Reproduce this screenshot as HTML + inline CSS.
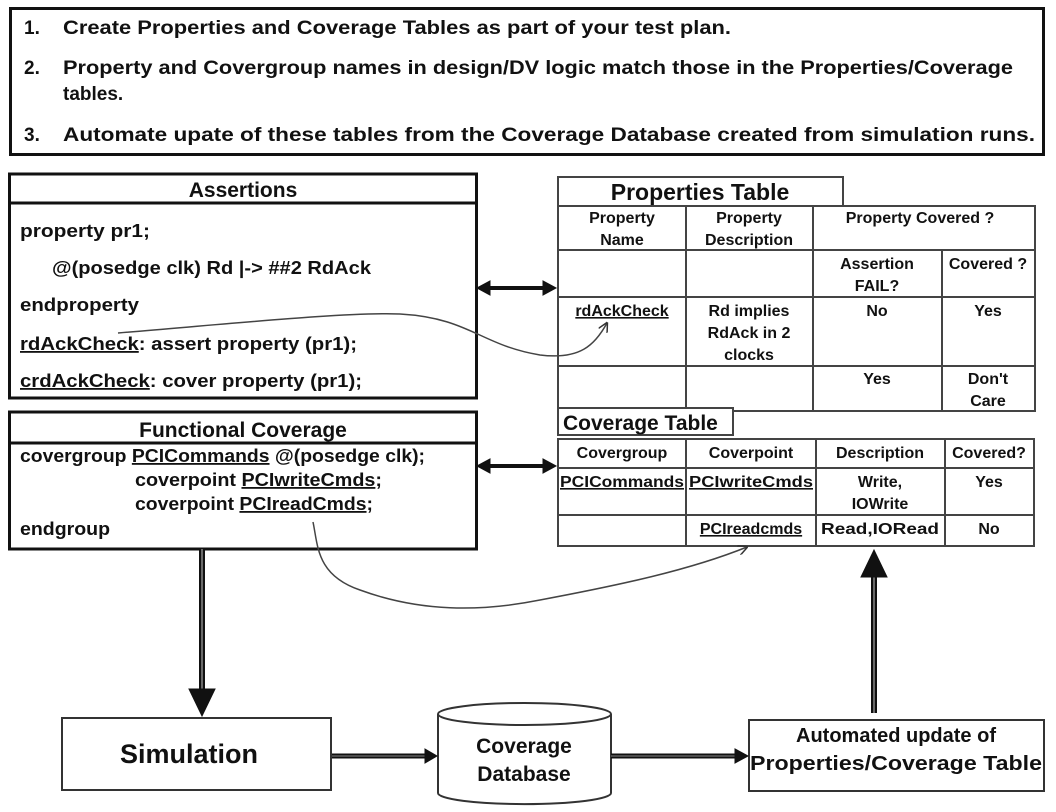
<!DOCTYPE html>
<html><head><meta charset="utf-8"><style>
html,body{margin:0;padding:0;background:#fff;}
svg{display:block;}
text{font-family:"Liberation Sans",sans-serif;font-weight:bold;fill:#111;}
</style></head><body>
<svg width="1056" height="812" viewBox="0 0 1056 812" xmlns="http://www.w3.org/2000/svg">
<defs>
<marker id="ah" markerWidth="10" markerHeight="10" refX="9" refY="5" orient="auto" markerUnits="userSpaceOnUse"><path d="M0,0 L10,5 L0,10" fill="none" stroke="#333" stroke-width="1.5"/></marker>
</defs>
<rect x="0" y="0" width="1056" height="812" fill="#fff"/>
<!-- top box -->
<rect x="10.5" y="8.5" width="1033" height="146" fill="#fff" stroke="#111" stroke-width="3"/>
<g font-size="19">
<text x="24" y="34">1.</text><text x="63" y="34" textLength="668" lengthAdjust="spacingAndGlyphs">Create Properties and Coverage Tables as part of your test plan.</text>
<text x="24" y="74">2.</text><text x="63" y="74" textLength="950" lengthAdjust="spacingAndGlyphs">Property and Covergroup names in design/DV logic match those in the Properties/Coverage</text>
<text x="63" y="100">tables.</text>
<text x="24" y="141">3.</text><text x="63" y="141" textLength="972" lengthAdjust="spacingAndGlyphs">Automate upate of these tables from the Coverage Database created from simulation runs.</text>
</g>
<!-- Assertions -->
<rect x="9.5" y="174" width="467" height="224" fill="#fff" stroke="#111" stroke-width="3"/>
<line x1="9" y1="203" x2="477" y2="203" stroke="#111" stroke-width="3"/>
<text x="243" y="197" font-size="21" text-anchor="middle">Assertions</text>
<g font-size="18">
<text x="20" y="237" textLength="130" lengthAdjust="spacingAndGlyphs">property pr1;</text>
<text x="52" y="274" textLength="319" lengthAdjust="spacingAndGlyphs">@(posedge clk) Rd |-&gt; ##2 RdAck</text>
<text x="20" y="311" textLength="119" lengthAdjust="spacingAndGlyphs">endproperty</text>
<text x="20" y="350" textLength="337" lengthAdjust="spacingAndGlyphs"><tspan text-decoration="underline">rdAckCheck</tspan>: assert property (pr1);</text>
<text x="20" y="387" textLength="342" lengthAdjust="spacingAndGlyphs"><tspan text-decoration="underline">crdAckCheck</tspan>: cover property (pr1);</text>
<text x="20" y="462" textLength="405" lengthAdjust="spacingAndGlyphs">covergroup <tspan text-decoration="underline">PCICommands</tspan> @(posedge clk);</text>
<text x="135" y="486" textLength="247" lengthAdjust="spacingAndGlyphs">coverpoint <tspan text-decoration="underline">PCIwriteCmds</tspan>;</text>
<text x="135" y="510" textLength="238" lengthAdjust="spacingAndGlyphs">coverpoint <tspan text-decoration="underline">PCIreadCmds</tspan>;</text>
<text x="20" y="535" textLength="90" lengthAdjust="spacingAndGlyphs">endgroup</text>
</g>
<!-- Functional coverage -->
<rect x="9.5" y="412" width="467" height="137" fill="none" stroke="#111" stroke-width="3"/>
<line x1="9" y1="443" x2="477" y2="443" stroke="#111" stroke-width="3"/>
<text x="243" y="437" font-size="21" text-anchor="middle">Functional  Coverage</text>
<!-- double arrows -->
<g fill="#111" stroke="#111">
<line x1="484" y1="288" x2="548" y2="288" stroke-width="4"/>
<path d="M477,288 L490,281 L490,295Z"/><path d="M556,288 L543,281 L543,295Z"/>
<line x1="484" y1="466" x2="548" y2="466" stroke-width="4"/>
<path d="M477,466 L490,459 L490,473Z"/><path d="M556,466 L543,459 L543,473Z"/>
</g>
<!-- Properties Table -->
<g stroke="#444" stroke-width="2" fill="none">
<rect x="558" y="177" width="285" height="29" fill="#fff"/>
<rect x="558" y="206" width="477" height="205"/>
<line x1="686" y1="206" x2="686" y2="411"/><line x1="813" y1="206" x2="813" y2="411"/>
<line x1="942" y1="250" x2="942" y2="411"/>
<line x1="558" y1="250" x2="1035" y2="250"/><line x1="558" y1="297" x2="1035" y2="297"/><line x1="558" y1="366" x2="1035" y2="366"/>
</g>
<text x="700" y="200" font-size="23" text-anchor="middle">Properties  Table</text>
<g font-size="16" text-anchor="middle">
<text x="622" y="223">Property</text><text x="622" y="245">Name</text>
<text x="749" y="223">Property</text><text x="749" y="245">Description</text>
<text x="920" y="223">Property Covered ?</text>
<text x="877" y="269">Assertion</text><text x="877" y="291">FAIL?</text>
<text x="988" y="269">Covered ?</text>
<text x="622" y="316" text-decoration="underline">rdAckCheck</text>
<text x="749" y="316">Rd implies</text><text x="749" y="338">RdAck in 2</text><text x="749" y="360">clocks</text>
<text x="877" y="316">No</text><text x="988" y="316">Yes</text>
<text x="877" y="384">Yes</text><text x="988" y="384">Don't</text><text x="988" y="406">Care</text>
</g>
<!-- Coverage Table -->
<g stroke="#444" stroke-width="2" fill="none">
<rect x="558" y="408" width="175" height="27" fill="#fff"/>
<rect x="558" y="439" width="476" height="107"/>
<line x1="686" y1="439" x2="686" y2="546"/><line x1="816" y1="439" x2="816" y2="546"/><line x1="945" y1="439" x2="945" y2="546"/>
<line x1="558" y1="468" x2="1034" y2="468"/><line x1="558" y1="515" x2="1034" y2="515"/>
</g>
<text x="563" y="430" font-size="21">Coverage Table</text>
<g font-size="16" text-anchor="middle">
<text x="622" y="458">Covergroup</text><text x="751" y="458">Coverpoint</text><text x="880" y="458">Description</text><text x="989" y="458">Covered?</text>
<text x="622" y="487" textLength="124" lengthAdjust="spacingAndGlyphs" text-decoration="underline">PCICommands</text>
<text x="751" y="487" textLength="124" lengthAdjust="spacingAndGlyphs" text-decoration="underline">PCIwriteCmds</text>
<text x="880" y="487">Write,</text><text x="880" y="509">IOWrite</text><text x="989" y="487">Yes</text>
<text x="751" y="534" text-decoration="underline">PCIreadcmds</text><text x="880" y="534" textLength="118" lengthAdjust="spacingAndGlyphs">Read,IORead</text><text x="989" y="534">No</text>
</g>
<!-- curves -->
<path d="M118,333 C250,322 350,312 400,314 C470,318 480,345 540,355 C580,360 595,345 607,323" fill="none" stroke="#444" stroke-width="1.5" marker-end="url(#ah)"/>
<path d="M313,522 C318,545 316,575 360,590 C420,612 480,612 540,600 C620,585 690,570 747,547" fill="none" stroke="#444" stroke-width="1.5" marker-end="url(#ah)"/>
<!-- bottom flow -->
<rect x="62" y="718" width="269" height="72" fill="#fff" stroke="#333" stroke-width="2"/>
<text x="189" y="763" font-size="27" text-anchor="middle">Simulation</text>
<path d="M438,714 L438,793 A86,11 0 0 0 611,793 L611,714" fill="#fff" stroke="#333" stroke-width="2"/>
<ellipse cx="524.5" cy="714" rx="86.5" ry="11" fill="#fff" stroke="#333" stroke-width="2"/>
<text x="524" y="753" font-size="21" text-anchor="middle">Coverage</text>
<text x="524" y="781" font-size="21" text-anchor="middle">Database</text>
<rect x="749" y="720" width="295" height="71" fill="#fff" stroke="#333" stroke-width="2"/>
<text x="896" y="742" font-size="20" text-anchor="middle">Automated update of</text>
<text x="896" y="770" font-size="20" text-anchor="middle" textLength="292" lengthAdjust="spacingAndGlyphs">Properties/Coverage Table</text>
<g fill="#111" stroke="#111">
<line x1="202" y1="549" x2="202" y2="692" stroke-width="6"/><line x1="202" y1="549" x2="202" y2="692" stroke="#888" stroke-width="1.5"/>
<path d="M189,689 L215,689 L202,716Z"/>
<line x1="874" y1="575" x2="874" y2="713" stroke-width="6"/><line x1="874" y1="575" x2="874" y2="713" stroke="#888" stroke-width="1.5"/>
<path d="M861,577 L887,577 L874,550Z"/>
<line x1="332" y1="756" x2="428" y2="756" stroke-width="5"/><line x1="332" y1="756" x2="428" y2="756" stroke="#888" stroke-width="1"/>
<path d="M425,749 L437,756 L425,763Z"/>
<line x1="611" y1="756" x2="738" y2="756" stroke-width="5"/><line x1="611" y1="756" x2="738" y2="756" stroke="#888" stroke-width="1"/>
<path d="M735,749 L748,756 L735,763Z"/>
</g>
</svg>
</body></html>
